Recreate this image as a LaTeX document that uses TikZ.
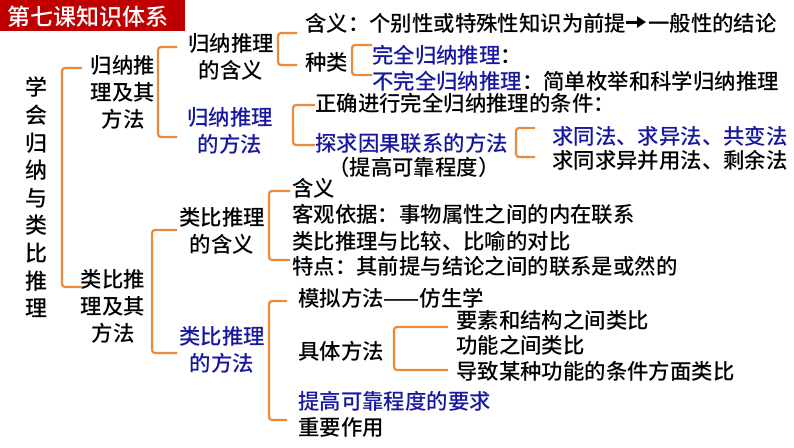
\documentclass[tikz,border=0pt]{standalone}
\usepackage{fontspec}
\usetikzlibrary{arrows.meta}
\newfontfamily\cjk{Noto Sans CJK SC}[UprightFont=* Medium]
\definecolor{brorange}{RGB}{237,137,55}
\definecolor{txblue}{RGB}{22,22,160}
\definecolor{titlered}{RGB}{192,0,0}
\begin{document}
\begin{tikzpicture}[x=1pt,y=-1pt,
  br/.style={draw=brorange,line width=2.2pt,rounded corners=3pt},
  txt/.style={inner sep=0pt,anchor=west,font=\cjk\fontsize{21.4}{27}\selectfont,text height=18.5pt,text depth=2.5pt},
  blk/.style={inner sep=0pt,align=center,font=\cjk\fontsize{21.4}{27}\selectfont},
  bluetxt/.style={text=txblue},
  bigarrow/.style={line width=3pt,-{Triangle[length=9pt,width=11pt]}}]
\useasboundingbox (0,0) rectangle (794,447);
% title
\fill[titlered] (0,0) rectangle (185,31);
\node (title) [inner sep=0pt,anchor=west,text=white,font=\cjk\fontsize{23}{23}\selectfont,text height=20pt,text depth=3pt] at (7,17) {第七课知识体系};
% root
\node (root) [blk,font=\cjk\fontsize{22}{27.6}\selectfont] at (36,197.5) {学\\会\\归\\纳\\与\\类\\比\\推\\理};
% level 1
\node (gn) [blk] at (123,92) {归纳推\\理及其\\方法};
\node (lb) [blk] at (113,306) {类比推\\理及其\\方法};
% level 2
\node (gnhy) [blk] at (231,57) {归纳推理\\的含义};
\node (gnff) [blk,bluetxt] at (230,131) {归纳推理\\的方法};
\node (lbhy) [blk] at (222,231) {类比推理\\的含义};
\node (lbff) [blk,bluetxt] at (222,350) {类比推理\\的方法};
% level 3 upper
\node (hy) [txt] at (305,23) {含义：个别性或特殊性知识为前提};
\node (hy2) [txt] at (648,23) {一般性的结论};
\draw[bigarrow] ([xshift=0pt,yshift=1pt]hy.east) -- ([xshift=-2pt,yshift=1pt]hy2.west);
\node (zl) [txt] at (305,62) {种类};
\node (wq) [txt] at (372,55) {\textcolor{txblue}{完全归纳推理}：};
\node (bwq) [txt] at (372,81) {\textcolor{txblue}{不完全归纳推理}：简单枚举和科学归纳推理};
\node (zq) [txt] at (315,103) {正确进行完全归纳推理的条件：};
\node (tq) [txt,bluetxt] at (315,143) {探求因果联系的方法};
\node (tg) [txt] at (328,167) {（提高可靠程度）};
\node (qt1) [txt,bluetxt] at (552,136) {求同法、求异法、共变法};
\node (qt2) [txt] at (552,160) {求同求异并用法、剩余法};
% level 3 lower
\node (l1) [txt] at (292,188) {含义};
\node (l2) [txt] at (292,214) {客观依据：事物属性之间的内在联系};
\node (l3) [txt] at (292,241) {类比推理与比较、比喻的对比};
\node (l4) [txt] at (292,266) {特点：其前提与结论之间的联系是或然的};
\node (m1) [txt] at (298,298) {模拟方法——仿生学};
\node (m2) [txt] at (298,351) {具体方法};
\node (m3) [txt,bluetxt] at (298,401) {提高可靠程度的要求};
\node (m4) [txt] at (298,427) {重要作用};
\node (k1) [txt] at (456,320) {要素和结构之间类比};
\node (k2) [txt] at (456,345) {功能之间类比};
\node (k3) [txt] at (456,371) {导致某种功能的条件方面类比};
% bracket end points
\coordinate (b1a) at (82,68);   \coordinate (b1b) at (82,287);
\coordinate (b2a) at (177,47);  \coordinate (b2b) at (177,137);
\coordinate (b3a) at (297,33);  \coordinate (b3b) at (297,65);
\coordinate (b4a) at (372,45);  \coordinate (b4b) at (372,75);
\coordinate (b5a) at (315,105); \coordinate (b5b) at (315,145);
\coordinate (b6a) at (535,128); \coordinate (b6b) at (535,157);
\coordinate (b7a) at (177,230); \coordinate (b7b) at (177,353);
\coordinate (b8a) at (290,191); \coordinate (b8b) at (290,260);
\coordinate (b9a) at (287,301); \coordinate (b9b) at (287,420);
\coordinate (b10a) at (448,327); \coordinate (b10b) at (448,370);
% brackets
\draw[br] (b1a) -- ++(-20,0) |- (b1b);
\draw[br] (b2a) -- ++(-19,0) |- (b2b);
\draw[br] (b3a) -- ++(-19,0) |- (b3b);
\draw[br] (b4a) -- ++(-20,0) |- (b4b);
\draw[br] (b5a) -- ++(-22,0) |- (b5b);
\draw[br] (b6a) -- ++(-19,0) |- (b6b);
\draw[br] (b7a) -- ++(-25,0) |- (b7b);
\draw[br] (b8a) -- ++(-21,0) |- (b8b);
\draw[br] (b9a) -- ++(-18,0) |- (b9b);
\draw[br] (b10a) -- ++(-54,0) |- (b10b);
\end{tikzpicture}
\end{document}
